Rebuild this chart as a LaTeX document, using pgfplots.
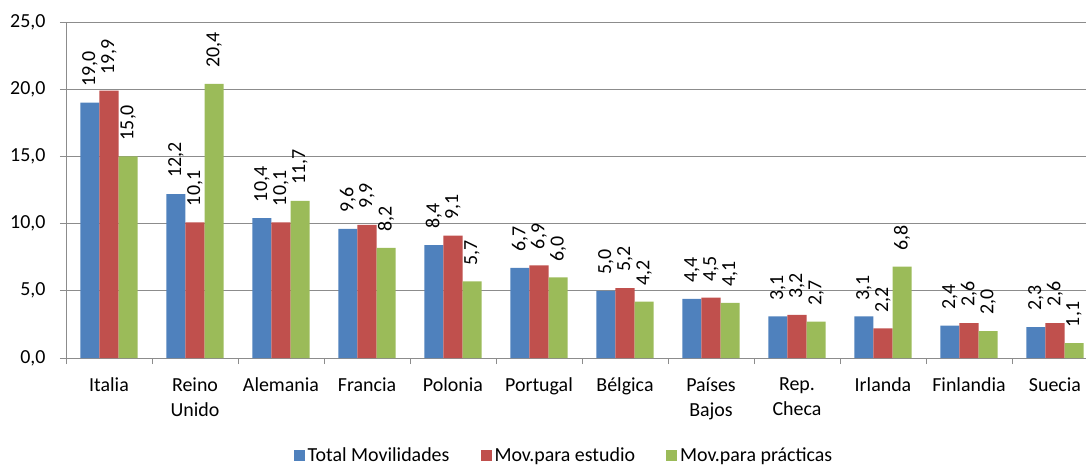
\documentclass[border=0pt]{standalone}
\usepackage{pgfplots}
\pgfplotsset{compat=1.18}
\usepackage{fontspec}
\setmainfont{Carlito}
\definecolor{cblue}{HTML}{4F81BD}
\definecolor{cred}{HTML}{C0504D}
\definecolor{cgreen}{HTML}{9BBB59}
\definecolor{cgrid}{HTML}{8C8C8C}
\begin{document}
\begin{tikzpicture}
\begin{axis}[
  scale only axis,
  width=1032bp, height=336bp,
  at={(0,0)}, anchor=south west,
  font=\fontsize{20}{25}\selectfont,
  ybar=0pt,
  bar width=19.1bp,
  xmin=-0.5, xmax=11.5,
  ymin=0, ymax=25,
  ytick={0,5,...,25},
  xtick={0,...,11},
  xticklabels={Italia,{Reino\\Unido},Alemania,Francia,Polonia,Portugal,Bélgica,{Países\\Bajos},{Rep.\\Checa},Irlanda,Finlandia,Suecia},
  xticklabel style={align=center, yshift=-10bp},
  yticklabel style={xshift=-11bp},
  minor xtick={-0.5,0.5,...,11.5},
  major x tick style={draw=none},
  minor tick length=6bp,
  major tick length=6bp,
  tick align=outside,
  tick style={cgrid, line width=0.8pt},
  axis x line*=bottom,
  axis y line*=left,
  axis line style={cgrid, line width=0.8pt, -},
  ymajorgrids,
  grid style={cgrid, line width=0.8pt},
  /pgf/number format/.cd, use comma, fixed, fixed zerofill, precision=1, assume math mode=true,
  /pgfplots/.cd,
  nodes near coords,
  nodes near coords style={rotate=90, anchor=west, inner xsep=16bp, inner ysep=0pt, text=black, font=\fontsize{20}{22}\selectfont},
  legend columns=3,
  legend style={at={(0.483,-0.289)}, anchor=center, draw=none, fill=none, /tikz/every even column/.append style={column sep=28bp}, font=\fontsize{20}{22}\selectfont, nodes={inner xsep=3bp}},
  legend image code/.code={\fill[#1] (0bp,-5.5bp) rectangle (11bp,5.5bp);},
]
\addplot[fill=cblue, draw=none] coordinates {(0,19.0) (1,12.2) (2,10.4) (3,9.6) (4,8.4) (5,6.7) (6,5.0) (7,4.4) (8,3.1) (9,3.1) (10,2.4) (11,2.3)};
\addplot[fill=cred, draw=none] coordinates {(0,19.9) (1,10.1) (2,10.1) (3,9.9) (4,9.1) (5,6.9) (6,5.2) (7,4.5) (8,3.2) (9,2.2) (10,2.6) (11,2.6)};
\addplot[fill=cgreen, draw=none] coordinates {(0,15.0) (1,20.4) (2,11.7) (3,8.2) (4,5.7) (5,6.0) (6,4.2) (7,4.1) (8,2.7) (9,6.8) (10,2.0) (11,1.1)};
\legend{Total Movilidades,Mov.para estudio,Mov.para prácticas}
\end{axis}
\pgfresetboundingbox
\path[use as bounding box] (-66bp,-108bp) rectangle (1020bp,358bp);
\end{tikzpicture}
\end{document}
